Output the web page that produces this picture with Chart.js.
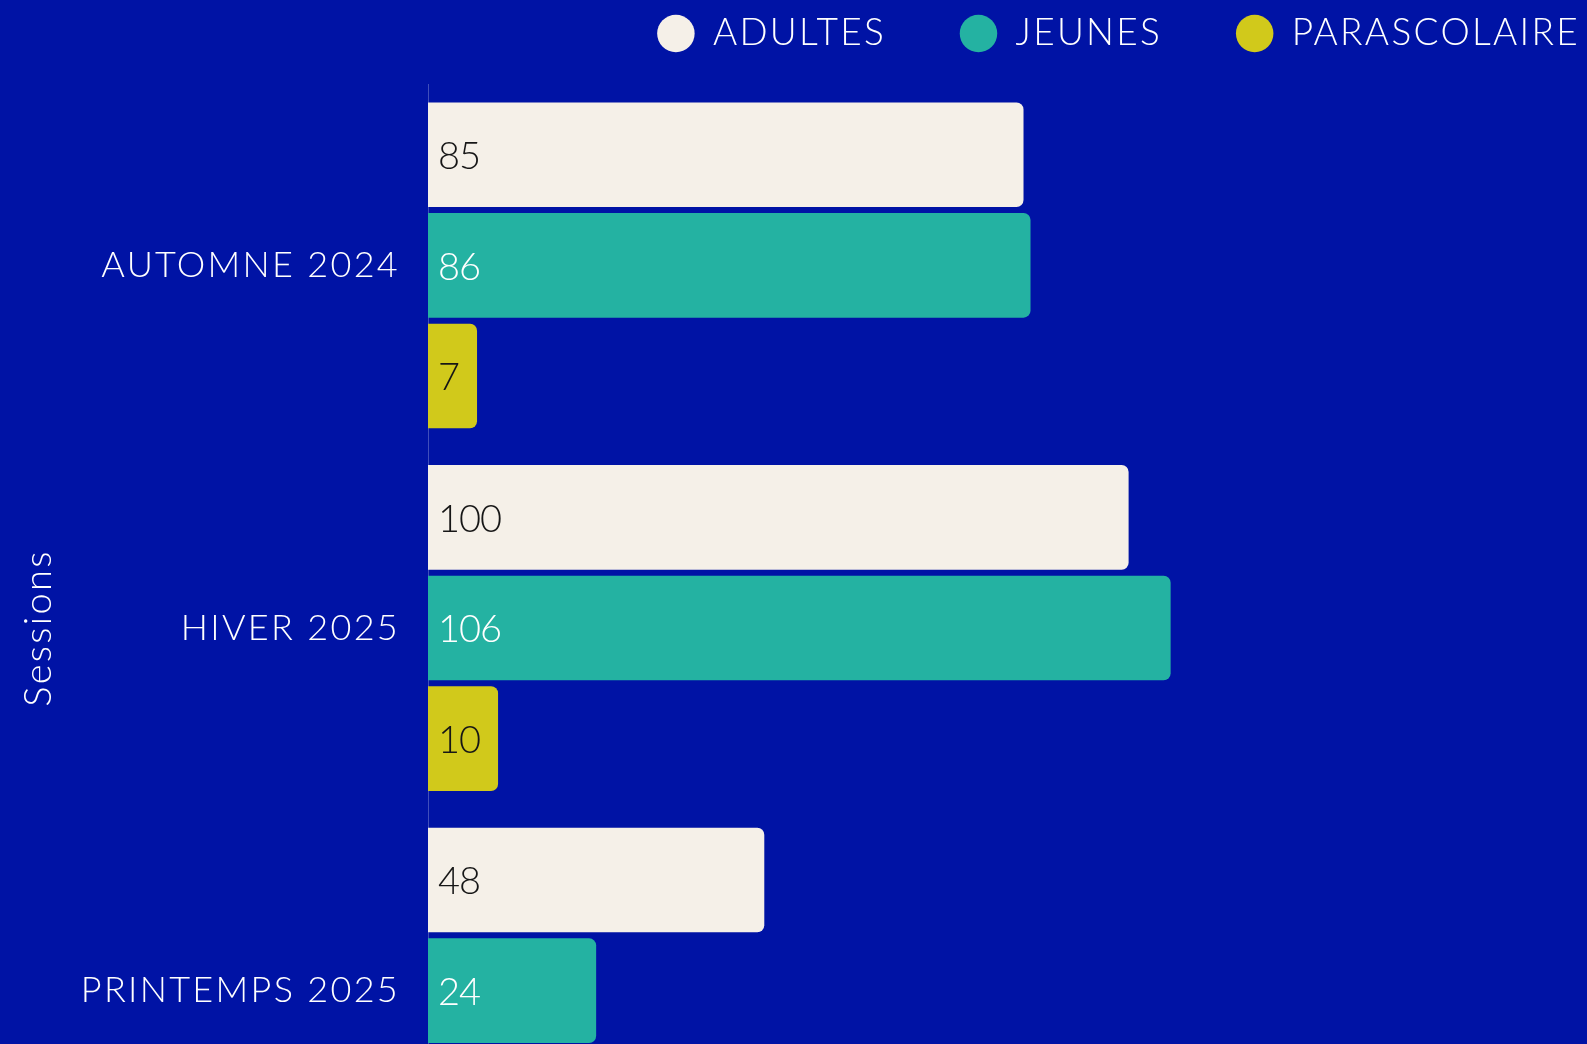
<!DOCTYPE html>
<html lang="fr">
<head>
<meta charset="utf-8">
<title>Sessions</title>
<script src="https://cdn.jsdelivr.net/npm/chart.js@4.4.1/dist/chart.umd.min.js"></script>
<style>
    html, body {
        margin: 0;
        padding: 0;
        overflow: hidden;
        background: #0013a5;
    }
    canvas { display: block; }
</style>
</head>
<body>
<canvas id="sessionsChart" width="1587" height="1172"></canvas>
<script>
const sessions = ['AUTOMNE 2024', 'HIVER 2025', 'PRINTEMPS 2025'];
const adultes = [85, 100, 48];
const jeunes = [86, 106, 24];
const parascolaire = [7, 10, null]; // hors cadre dans l'image

const bgBlue = '#0013a5';
const fontFamily = "Lato, 'Open Sans', sans-serif";

// légende remontée/décalée, fond bleu, espacement des lettres, valeurs dans les barres
const sessionsPlugin = {
    id: 'sessionsPlugin',
    beforeInit(chart) {
        const legendFit = chart.legend.fit;
        chart.legend.fit = function () {
            legendFit.bind(chart.legend)();
            this.height = 84;
        };
    },
    beforeUpdate(chart) {
        chart.ctx.letterSpacing = '2.3px';
    },
    afterLayout(chart) {
        chart.legend.top -= 59;
        chart.legend.right += 70;
    },
    beforeDraw(chart) {
        const ctx = chart.ctx;
        ctx.letterSpacing = '2.3px';
        ctx.save();
        ctx.fillStyle = bgBlue;
        ctx.fillRect(0, 0, chart.width, chart.height);
        ctx.restore();
    },
    afterDatasetsDraw(chart) {
        const ctx = chart.ctx;
        ctx.save();
        ctx.letterSpacing = '-1px';
        ctx.font = '300 38px ' + fontFamily;
        ctx.textBaseline = 'middle';
        ctx.textAlign = 'left';
        chart.data.datasets.forEach((ds, i) => {
            const meta = chart.getDatasetMeta(i);
            meta.data.forEach((bar, j) => {
                const v = ds.data[j];
                if (v === null || v === undefined) return;
                ctx.fillStyle = ds.labelColor;
                ctx.fillText(String(v), bar.base + 10, bar.y + 2);
            });
        });
        ctx.restore();
    }
};

new Chart(document.getElementById('sessionsChart').getContext('2d'), {
    type: 'bar',
    data: {
        labels: sessions,
        datasets: [
            { label: 'ADULTES', data: adultes, backgroundColor: '#f5f0e8', labelColor: '#161616' },
            { label: 'JEUNES', data: jeunes, backgroundColor: '#24b2a2', labelColor: '#ffffff' },
            { label: 'PARASCOLAIRE', data: parascolaire, backgroundColor: '#d1c91b', labelColor: '#161616' }
        ]
    },
    options: {
        indexAxis: 'y',
        responsive: false,
        animation: false,
        categoryPercentage: 0.915,
        barPercentage: 0.946,
        borderRadius: 7,
        borderSkipped: 'start',
        layout: { padding: { right: 3 } },
        plugins: {
            tooltip: { enabled: false },
            legend: {
                position: 'top',
                align: 'end',
                labels: {
                    usePointStyle: true,
                    pointStyle: 'circle',
                    boxWidth: 37,
                    boxHeight: 26.5,
                    padding: 74,
                    color: '#ffffff',
                    font: { family: fontFamily, size: 37, weight: 300 }
                }
            }
        },
        scales: {
            x: {
                display: false,
                min: 0,
                max: 165
            },
            y: {
                grid: { display: false, drawTicks: false },
                border: { display: true, color: 'rgba(255,255,255,0.25)', width: 1 },
                ticks: {
                    color: '#ffffff',
                    padding: 28,
                    font: { family: fontFamily, size: 36, weight: 300 }
                },
                title: {
                    display: true,
                    text: 'Sessions',
                    color: '#ffffff',
                    padding: { top: 16, bottom: 0 },
                    font: { family: fontFamily, size: 38, weight: 300 }
                },
                afterFit(scale) {
                    scale.width = 428;
                    scale.paddingTop = 0;
                    scale.paddingBottom = 0;
                }
            }
        }
    },
    plugins: [sessionsPlugin]
});
</script>
</body>
</html>
